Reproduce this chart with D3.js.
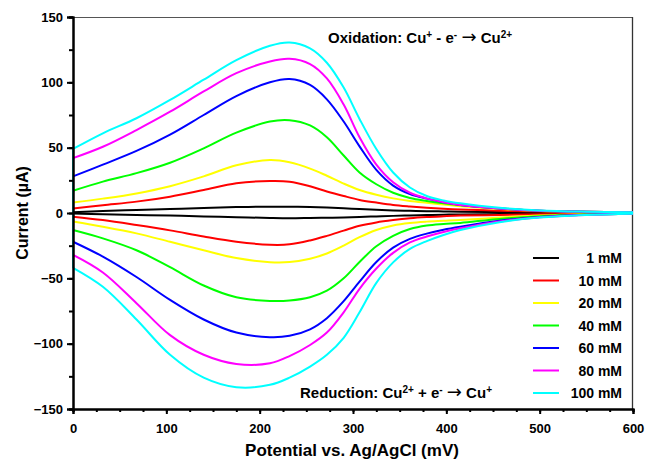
<!DOCTYPE html>
<html>
<head>
<meta charset="utf-8">
<script src="https://cdn.jsdelivr.net/npm/d3@7"></script>
<style>
  html, body { margin: 0; padding: 0; background: #fff; }
  svg text { font-family: Arial, "Liberation Sans", sans-serif; font-weight: bold; fill: #000; }
</style>
</head>
<body>
<svg id="chart" width="645" height="459"></svg>
<script>
// Potential grid (mV) shared by every scan
const potential = [0, 32, 68, 104, 140, 175, 211, 232, 254, 272, 290, 307, 325, 343, 361, 379, 397, 415, 457, 500, 550, 600];

const concentrations = ["1 mM", "10 mM", "20 mM", "40 mM", "60 mM", "80 mM", "100 mM"];
const colors = ["#000000", "#ff0000", "#ffff00", "#00ff00", "#0000ff", "#ff00ff", "#00ffff"];

// Anodic (oxidation) branch currents, µA
const oxidation1 = [0.5, 1.5, 2.3, 3, 3.8, 4.5, 4.8, 4.8, 4.6, 4.2, 3.6, 3, 2.5, 2, 1.7, 1.4, 1.2, 1, 0.8, 0.6, 0.5, 0.4];
const oxidation10 = [3.5, 6, 8.7, 12.5, 17.6, 22.7, 24.5, 24, 20.5, 16.5, 13, 10, 8, 6.2, 5, 4, 3.2, 2.6, 1.8, 1.2, 0.8, 0.5];
const oxidation20 = [8, 11, 15, 20.5, 28, 36.5, 40.5, 38.8, 34, 28.5, 22.5, 17.6, 14, 11.2, 9.2, 7.8, 6.5, 5.2, 3, 1.6, 1, 0.5];
const oxidation40 = [17, 24, 30.5, 38.5, 49.5, 61.5, 70, 71, 67, 58, 44, 31, 22, 15.5, 11.5, 9.2, 7.4, 6, 3.5, 1.8, 1, 0.5];
const oxidation60 = [28, 37, 47.5, 60, 75, 89.5, 100, 102.5, 98, 87, 70, 51, 33, 21, 14.5, 11, 8.3, 6.2, 3.5, 1.8, 1, 0.5];
const oxidation80 = [42, 50.7, 63.5, 77.5, 93, 107, 116, 118, 114, 103, 83, 58, 37, 23.5, 15.5, 11.2, 8.3, 6.2, 3.5, 1.8, 1, 0.5];
const oxidation100 = [49, 61, 72.5, 86.5, 102, 117, 128, 130.5, 126, 115, 96, 72, 49, 31, 19.5, 13, 9.6, 7.4, 4, 2, 1, 0.5];

// Cathodic (reduction) branch currents, µA
const reduction1 = [-0.3, -1, -1.5, -2, -2.6, -3.2, -3.8, -4, -3.8, -3.6, -3.4, -3, -2.6, -2.2, -1.9, -1.6, -1.3, -1.1, -0.8, -0.6, -0.4, -0.3];
const reduction10 = [-2.8, -5.4, -9.2, -13.3, -18, -22, -24.3, -24, -21, -17.5, -13.5, -9.8, -7.2, -5.4, -4, -3.1, -2.5, -2, -1.5, -1, -0.7, -0.4];
const reduction20 = [-6.5, -10.5, -15.6, -22, -28.5, -34.5, -37.6, -37.5, -35, -31, -25, -18.5, -13, -9.5, -7.6, -6.6, -6, -5.4, -3.5, -2, -1, -0.5];
const reduction40 = [-13, -19.4, -28.5, -41.5, -55.5, -64.5, -67.3, -67, -64.5, -59.5, -50, -37.5, -25.5, -17.5, -12.3, -9.6, -8.4, -7.6, -4.5, -2.5, -1.2, -0.5];
const reduction60 = [-22, -33.4, -49, -66.5, -81.5, -91.5, -95, -94, -89, -80.5, -67.5, -52.5, -37.5, -26.5, -19.8, -15.8, -12.8, -10.5, -6, -3, -1.3, -0.5];
const reduction80 = [-32, -45.5, -69, -93.5, -108.5, -115.5, -115, -109.5, -101, -91.5, -76, -58, -42.5, -30.5, -22.5, -18, -14.5, -11.7, -6.5, -3.2, -1.4, -0.5];
const reduction100 = [-42, -56.5, -81.5, -108.5, -126, -133.3, -131.5, -126, -117.5, -108.5, -95.5, -76, -53.5, -37.8, -27.5, -21.5, -16.8, -13, -7, -3.5, -1.5, -0.5];

const oxidationSeries = [oxidation1, oxidation10, oxidation20, oxidation40, oxidation60, oxidation80, oxidation100];
const reductionSeries = [reduction1, reduction10, reduction20, reduction40, reduction60, reduction80, reduction100];

const xTicks = [0, 100, 200, 300, 400, 500, 600];
const yTicks = [-150, -100, -50, 0, 50, 100, 150];

const svg = d3.select("#chart");
const plot = { left: 73, right: 633, top: 17, bottom: 409 };

const x = d3.scaleLinear().domain([0, 600]).range([plot.left, plot.right]);
const y = d3.scaleLinear().domain([-150, 150]).range([plot.bottom, plot.top]);

// Frame: thin top and right borders
svg.append("line").attr("x1", plot.left).attr("x2", plot.right).attr("y1", plot.top + 0.5).attr("y2", plot.top + 0.5)
  .attr("stroke", "#555").attr("stroke-width", 1);
svg.append("line").attr("x1", plot.right - 0.5).attr("x2", plot.right - 0.5).attr("y1", plot.top).attr("y2", plot.bottom)
  .attr("stroke", "#333").attr("stroke-width", 1.3);

// Voltammograms
const line = d3.line().x(d => x(d[0])).y(d => y(d[1])).curve(d3.curveCatmullRom.alpha(0.5));
const curves = svg.append("g").attr("fill", "none").attr("stroke-width", 2).attr("stroke-linejoin", "round");
concentrations.forEach((c, i) => {
  const ox = potential.map((p, k) => [p, oxidationSeries[i][k]]);
  const red = potential.map((p, k) => [p, reductionSeries[i][k]]);
  const g = curves.append("g").attr("stroke", colors[i]);
  g.append("path").attr("d", line(red));
  g.append("path").attr("d", line(ox));
  // switching segment at the start potential
  g.append("path").attr("d", d3.line().x(d => x(d[0])).y(d => y(d[1]))([red[0], ox[0]]));
});

// Axes
const xAxis = d3.axisBottom(x).tickValues(xTicks).tickSize(5).tickPadding(10).tickFormat(d3.format("d"));
const yAxis = d3.axisLeft(y).tickValues(yTicks).tickSize(6).tickPadding(4).tickFormat(d3.format("d"));
const xMinor = d3.axisBottom(x).tickValues(d3.range(0, 601, 25)).tickSize(3).tickFormat("");
const yMinor = d3.axisLeft(y).tickValues(d3.range(-150, 151, 25)).tickSize(4).tickFormat("");

function styleAxis(g) {
  g.select(".domain").attr("stroke", "#000").attr("stroke-width", 2);
  g.selectAll(".tick line").attr("stroke", "#000").attr("stroke-width", 2);
  g.selectAll(".tick text").style("font-size", "13px").style("font-weight", "bold")
    .attr("font-family", "Arial, 'Liberation Sans', sans-serif").attr("fill", "#000");
}
svg.append("g").attr("transform", `translate(0,${plot.bottom})`).call(xMinor).call(styleAxis);
svg.append("g").attr("transform", `translate(${plot.left},0)`).call(yMinor).call(styleAxis);
svg.append("g").attr("transform", `translate(0,${plot.bottom})`).call(xAxis).call(styleAxis);
svg.append("g").attr("transform", `translate(${plot.left},0)`).call(yAxis).call(styleAxis);

// Axis titles
svg.append("text").attr("x", 352).attr("y", 456).attr("text-anchor", "middle")
  .style("font-size", "17px").text("Potential vs. Ag/AgCl (mV)");
svg.append("text").attr("transform", `translate(28,${(plot.top + plot.bottom) / 2}) rotate(-90)`).attr("text-anchor", "middle")
  .style("font-size", "16px").text("Current (µA)");

// Reaction labels
function reaction(xPos, yPos, parts) {
  const t = svg.append("text").attr("x", xPos).attr("y", yPos).style("font-size", "15px");
  parts.forEach(p => {
    const s = t.append("tspan").text(p.text);
    if (p.sup) s.attr("baseline-shift", "super").style("font-size", "10px");
    if (p.arrow) s.style("font-family", "'DejaVu Sans', sans-serif").style("font-weight", "normal").style("font-size", "18px");
  });
}
reaction(328, 43, [
  { text: "Oxidation: Cu" }, { text: "+", sup: true }, { text: " - e" }, { text: "-", sup: true },
  { text: " " }, { text: "\u2192", arrow: true }, { text: " Cu" }, { text: "2+", sup: true }
]);
reaction(300, 398, [
  { text: "Reduction: Cu" }, { text: "2+", sup: true }, { text: " + e" }, { text: "-", sup: true },
  { text: " " }, { text: "\u2192", arrow: true }, { text: " Cu" }, { text: "+", sup: true }
]);

// Legend
const legend = svg.append("g");
concentrations.forEach((c, i) => {
  const ly = 258 + i * 22.5;
  legend.append("line").attr("x1", 533).attr("x2", 559).attr("y1", ly).attr("y2", ly)
    .attr("stroke", colors[i]).attr("stroke-width", 2);
  legend.append("text").attr("x", 622).attr("y", ly + 5).attr("text-anchor", "end")
    .style("font-size", "14px").text(c);
});
</script>
</body>
</html>
